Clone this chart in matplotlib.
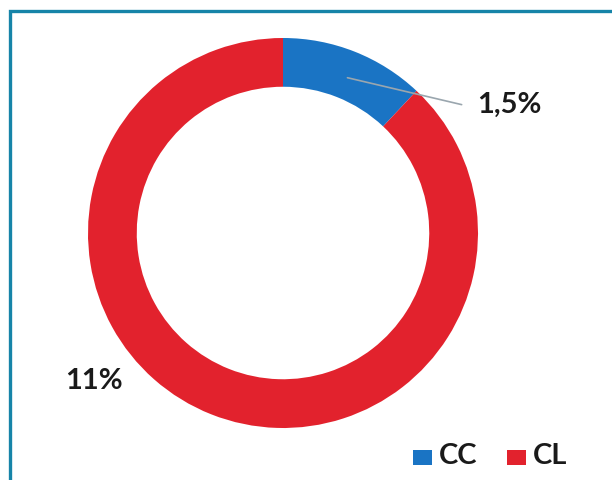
import numpy as np
import matplotlib.pyplot as plt
from matplotlib.patches import Rectangle

labels = ["CC", "CL"]
values = [1.5, 11]
value_text = ["1,5%", "11%"]
colors = ["#1a74c4", "#e2222d"]

W, H = 612, 480
fig = plt.figure(figsize=(W / 100, H / 100), dpi=100)
fig.patch.set_facecolor("white")

# blue frame around the panel (runs off right and bottom edges)
fig.patches.append(Rectangle((9.5 / W, -0.1), 1.2, (H - 10.5) / H + 0.1,
                             transform=fig.transFigure, fill=False,
                             edgecolor="#1684a8", linewidth=2.4))

cx, cy, r = 283, 233, 195
ax = fig.add_axes([(cx - r) / W, (H - cy - r) / H, 2 * r / W, 2 * r / H])

wedges, _ = ax.pie(values, colors=colors, startangle=90, counterclock=False,
                   radius=1.0, wedgeprops=dict(width=0.25, edgecolor="none"))
ax.set_xlim(-1, 1)
ax.set_ylim(-1, 1)
ax.set_aspect("equal")
ax.axis("off")

# leader line for the small slice
mid = np.deg2rad((wedges[0].theta1 + wedges[0].theta2) / 2)
start = (0.86 * np.cos(mid), 0.86 * np.sin(mid))
ax.annotate("", xy=start, xytext=(0.93, 0.655),
            arrowprops=dict(arrowstyle="-", color="#9aa6ae", lw=1.2))

font = dict(family=["Lato", "DejaVu Sans"], fontweight="bold", color="#1a1a1a")
fig.text(477 / W, 1 - 105 / H, value_text[0], fontsize=21, ha="left", va="center", **font)
fig.text(65 / W, 1 - 381 / H, value_text[1], fontsize=21, ha="left", va="center", **font)

# legend
sq = 19
for x0, lab, col in [(413, labels[0], colors[0]), (507, labels[1], colors[1])]:
    fig.patches.append(Rectangle((x0 / W, 1 - 465 / H), sq / W, (sq - 4) / H,
                                 transform=fig.transFigure, facecolor=col,
                                 edgecolor="none"))
    fig.text((x0 + sq + 7) / W, 1 - 456 / H, lab, fontsize=21, ha="left",
             va="center", **font)

fig.savefig("out.png", dpi=100)
